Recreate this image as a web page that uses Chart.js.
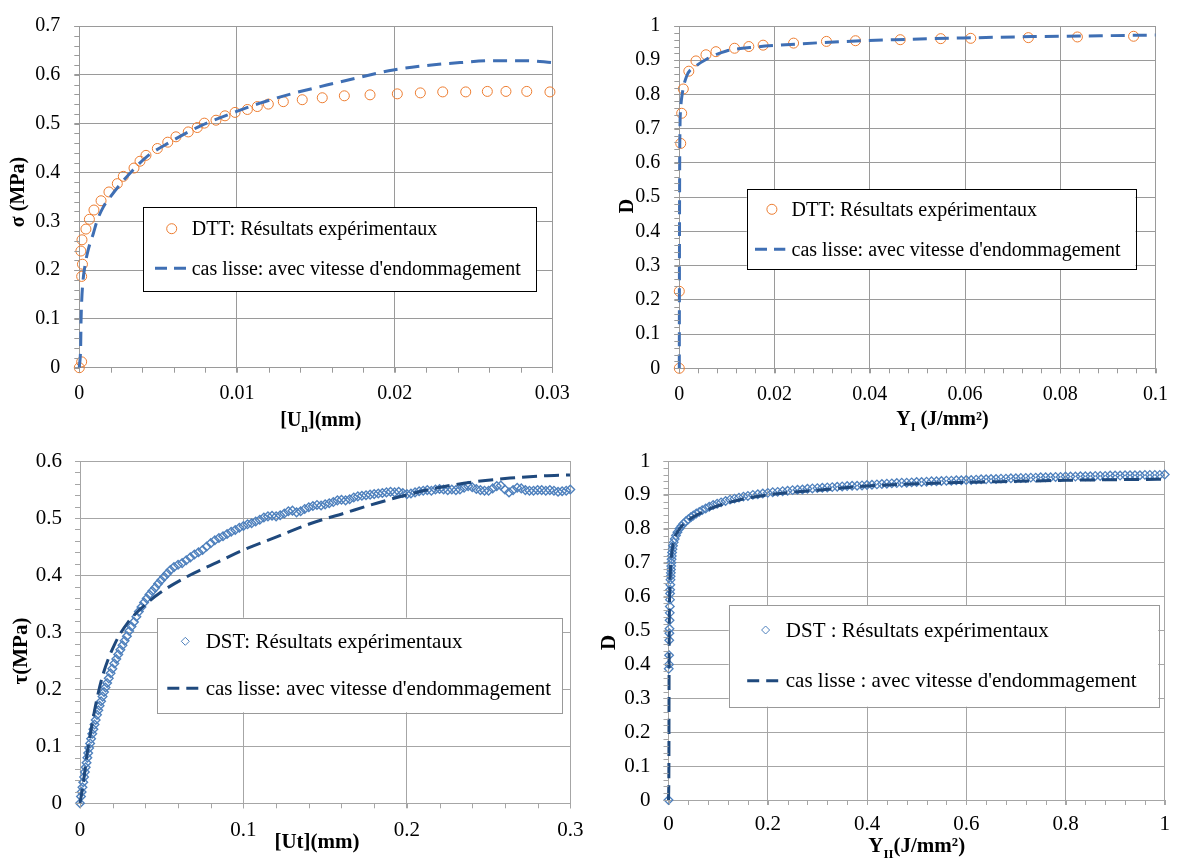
<!DOCTYPE html>
<html><head><meta charset="utf-8">
<script src="https://cdn.jsdelivr.net/npm/chart.js@4.4.1/dist/chart.umd.min.js"></script>
<style>
html,body{margin:0;padding:0;background:#fff;}
#wrap{position:relative;width:1177px;height:862px;overflow:hidden;background:#fff;}
canvas{position:absolute;}
.fl{position:absolute;left:-999px;top:-999px;font-family:"Liberation Serif";}
</style></head><body><div id="wrap">
<canvas id="c1"></canvas><canvas id="c2"></canvas><canvas id="c3"></canvas><canvas id="c4"></canvas>
</div>
<span class="fl">0.1 Résultats</span><span class="fl" style="font-weight:bold">D (MPa)</span>
<script>
// ---------- Panel 1 : DTT, sigma vs [Un] ----------
const dttUnX = [0, 0.00015, 0.00015, 0.0002, 0.0001, 0.00017, 0.00042, 0.00064, 0.00093, 0.00138, 0.00188, 0.00241, 0.00279, 0.00347, 0.00385, 0.00423, 0.00495, 0.00561, 0.00613, 0.00691, 0.00748, 0.00793, 0.00867, 0.00924, 0.00988, 0.01066, 0.01129, 0.01199, 0.01294, 0.01414, 0.01541, 0.01681, 0.01844, 0.02017, 0.02163, 0.02305, 0.02451, 0.02588, 0.02706, 0.02838, 0.02985];
const dttSigma = [0, 0.012, 0.187, 0.212, 0.239, 0.262, 0.284, 0.304, 0.323, 0.342, 0.36, 0.377, 0.392, 0.409, 0.423, 0.435, 0.449, 0.462, 0.473, 0.483, 0.492, 0.501, 0.507, 0.516, 0.523, 0.529, 0.535, 0.54, 0.545, 0.549, 0.553, 0.557, 0.559, 0.561, 0.563, 0.565, 0.565, 0.566, 0.566, 0.566, 0.565];
const modelUnX = [0, 0.00009, 0.00011, 0.00015, 0.00021, 0.00036, 0.00057, 0.00089, 0.00114, 0.00152, 0.00195, 0.00258, 0.00332, 0.00427, 0.00575, 0.00766, 0.00998, 0.01146, 0.01357, 0.01569, 0.0178, 0.01992, 0.02203, 0.02415, 0.02626, 0.02838, 0.03];
const modelSigma = [0, 0.049, 0.095, 0.135, 0.169, 0.209, 0.242, 0.275, 0.302, 0.329, 0.349, 0.375, 0.402, 0.432, 0.462, 0.495, 0.525, 0.542, 0.562, 0.579, 0.595, 0.61, 0.619, 0.625, 0.629, 0.629, 0.625];
const p1XTicks = [0, 0.01, 0.02, 0.03];
const p1YTicks = [0, 0.1, 0.2, 0.3, 0.4, 0.5, 0.6, 0.7];

// ---------- Panel 2 : DTT, D vs YI ----------
const dttYIX = [0, 0, 0.0003, 0.0005, 0.00084, 0.002, 0.0035, 0.0056, 0.0077, 0.0116, 0.0146, 0.0176, 0.024, 0.0309, 0.037, 0.0464, 0.0549, 0.0612, 0.0733, 0.0836, 0.0954];
const dttD1 = [0, 0.225, 0.657, 0.745, 0.816, 0.868, 0.898, 0.916, 0.925, 0.935, 0.94, 0.944, 0.95, 0.955, 0.957, 0.96, 0.963, 0.964, 0.966, 0.968, 0.97];
const modelYIX = [0, 0.00002, 0.00005, 0.0001, 0.0003, 0.0006, 0.0015, 0.0036, 0.0057, 0.0099, 0.0148, 0.021, 0.0336, 0.0452, 0.0596, 0.074, 0.0884, 0.1];
const modelD1 = [0, 0.2, 0.45, 0.65, 0.76, 0.8, 0.852, 0.884, 0.903, 0.927, 0.937, 0.944, 0.954, 0.96, 0.965, 0.969, 0.9715, 0.9735];
const p2XTicks = [0, 0.02, 0.04, 0.06, 0.08, 0.1];
const p2YTicks = [0, 0.1, 0.2, 0.3, 0.4, 0.5, 0.6, 0.7, 0.8, 0.9, 1];

// ---------- Panel 3 : DST, tau vs [Ut] ----------
const dstUtX = [0, 0.0006, 0.001, 0.0015, 0.002, 0.0025, 0.003, 0.0035, 0.004, 0.0045, 0.005, 0.0056, 0.0062, 0.0068, 0.0075, 0.0082, 0.0089, 0.0096, 0.0104, 0.0112, 0.012, 0.0129, 0.0138, 0.0147, 0.0156, 0.0166, 0.0176, 0.0187, 0.0198, 0.021, 0.0222, 0.0234, 0.0247, 0.026, 0.0273, 0.0287, 0.0301, 0.0315, 0.033, 0.0345, 0.036, 0.0376, 0.0392, 0.0408, 0.0425, 0.0442, 0.046, 0.0478, 0.0496, 0.0515, 0.0534, 0.0553, 0.0575, 0.06, 0.0625,
  0.065, 0.0675, 0.07, 0.0725, 0.075, 0.0775, 0.08, 0.0825, 0.085, 0.0875, 0.09, 0.0925, 0.095, 0.0975, 0.1, 0.1025, 0.105, 0.1075, 0.11, 0.1125, 0.115, 0.1175, 0.12, 0.1225, 0.125, 0.1275, 0.13, 0.1325, 0.135, 0.1375, 0.14, 0.1425, 0.145, 0.1475, 0.15, 0.1525, 0.155, 0.1575, 0.16, 0.1625, 0.165, 0.1675, 0.17, 0.1725, 0.175, 0.1775, 0.18, 0.1825, 0.185, 0.1875, 0.19, 0.1925, 0.195, 0.1975, 0.2, 0.2025, 0.205, 0.2075, 0.21, 0.2125, 0.215, 0.2175, 0.22, 0.2225, 0.225, 0.2275, 0.23, 0.2325, 0.235, 0.2375, 0.24, 0.2425, 0.245, 0.2475, 0.25, 0.2525, 0.255, 0.2575, 0.26, 0.2625, 0.265, 0.2675, 0.27, 0.2725, 0.275, 0.2775, 0.28, 0.2825, 0.285, 0.2875, 0.29, 0.2925, 0.295, 0.2975, 0.3];
const dstTau = [0, 0.012, 0.02, 0.028, 0.037, 0.046, 0.055, 0.063, 0.071, 0.08, 0.088, 0.097, 0.105, 0.113, 0.122, 0.13, 0.138, 0.146, 0.155, 0.163, 0.171, 0.179, 0.187, 0.195, 0.203, 0.211, 0.219, 0.228, 0.236, 0.245, 0.253, 0.261, 0.269, 0.277, 0.285, 0.293, 0.302, 0.31, 0.318, 0.327, 0.336, 0.344, 0.352, 0.359, 0.366, 0.372, 0.378, 0.385, 0.391, 0.397, 0.403, 0.409, 0.414, 0.418, 0.421,
  0.426, 0.431, 0.436, 0.44, 0.444, 0.45, 0.456, 0.461, 0.465, 0.468, 0.472, 0.476, 0.479, 0.483, 0.486, 0.489, 0.491, 0.494, 0.497, 0.501, 0.503, 0.504, 0.503, 0.505, 0.508, 0.512, 0.513, 0.51, 0.512, 0.516, 0.519, 0.521, 0.523, 0.522, 0.524, 0.526, 0.528, 0.531, 0.532, 0.531, 0.533, 0.536, 0.538, 0.539, 0.54, 0.541, 0.542, 0.543, 0.544, 0.545, 0.546, 0.545, 0.546, 0.544, 0.542, 0.543, 0.545, 0.547, 0.548, 0.549, 0.548, 0.55, 0.551, 0.55, 0.549, 0.55, 0.549, 0.55, 0.553, 0.556, 0.554, 0.551, 0.549, 0.548, 0.548, 0.552, 0.556, 0.557, 0.55, 0.545, 0.549, 0.553, 0.552, 0.549, 0.548, 0.548, 0.549, 0.549, 0.548, 0.549, 0.548, 0.546, 0.547, 0.548, 0.55];
const modelUtX = [0, 0.002, 0.0041, 0.0071, 0.0102, 0.0143, 0.0214, 0.0296, 0.0387, 0.049, 0.0653, 0.0836, 0.0999, 0.1203, 0.1407, 0.1611, 0.1815, 0.2019, 0.2223, 0.2427, 0.2631, 0.2835, 0.2998];
const modelTau = [0, 0.035, 0.082, 0.134, 0.181, 0.228, 0.28, 0.318, 0.345, 0.369, 0.397, 0.422, 0.444, 0.467, 0.49, 0.508, 0.526, 0.542, 0.555, 0.564, 0.57, 0.574, 0.5755];
const p3XTicks = [0, 0.1, 0.2, 0.3];
const p3YTicks = [0, 0.1, 0.2, 0.3, 0.4, 0.5, 0.6];

// ---------- Panel 4 : DST, D vs YII ----------
const dstYIIX = [0, 0.0005, 0.001, 0.0012, 0.0015, 0.0018, 0.002, 0.0022, 0.0025, 0.0027, 0.003, 0.0032, 0.0034, 0.0037, 0.004, 0.0043, 0.0047, 0.005, 0.0054, 0.0058, 0.0062, 0.0066, 0.0072, 0.008, 0.009, 0.0105, 0.0125, 0.015, 0.018, 0.022, 0.026, 0.03, 0.035, 0.04, 0.045, 0.05, 0.056, 0.062, 0.068, 0.075, 0.082, 0.09, 0.098, 0.106, 0.115, 0.124, 0.133, 0.142, 0.151, 0.16, 0.17, 0.18, 0.19,
  0.2, 0.21, 0.22, 0.23, 0.24, 0.25, 0.26, 0.27, 0.28, 0.29, 0.3, 0.31, 0.32, 0.33, 0.34, 0.35, 0.36, 0.37, 0.38, 0.39, 0.4, 0.41, 0.42, 0.43, 0.44, 0.45, 0.46, 0.47, 0.48, 0.49, 0.5, 0.51, 0.52, 0.53, 0.54, 0.55, 0.56, 0.57, 0.58, 0.59, 0.6, 0.61, 0.62, 0.63, 0.64, 0.65, 0.66, 0.67, 0.68, 0.69, 0.7, 0.71, 0.72, 0.73, 0.74, 0.75, 0.76, 0.77, 0.78, 0.79, 0.8, 0.81, 0.82, 0.83, 0.84, 0.85, 0.86, 0.87, 0.88, 0.89, 0.9, 0.91, 0.92, 0.93, 0.94, 0.95, 0.96, 0.97, 0.98, 0.99, 1.0];
const dstD2 = [0, 0.387, 0.4, 0.427, 0.471, 0.492, 0.505, 0.53, 0.552, 0.571, 0.591, 0.609, 0.62, 0.635, 0.65, 0.66, 0.67, 0.68, 0.69, 0.7, 0.71, 0.72, 0.73, 0.74, 0.75, 0.76, 0.77, 0.78, 0.79, 0.8, 0.808, 0.815, 0.822, 0.828, 0.834, 0.839, 0.845, 0.85, 0.855, 0.86, 0.865, 0.87, 0.874, 0.878, 0.882, 0.886, 0.889, 0.892, 0.895, 0.897, 0.9, 0.902, 0.904,
  0.906, 0.908, 0.909, 0.911, 0.912, 0.914, 0.915, 0.916, 0.918, 0.919, 0.92, 0.921, 0.922, 0.923, 0.924, 0.925, 0.926, 0.927, 0.927, 0.928, 0.929, 0.93, 0.931, 0.932, 0.933, 0.934, 0.935, 0.936, 0.936, 0.937, 0.938, 0.938, 0.939, 0.94, 0.94, 0.941, 0.942, 0.942, 0.943, 0.943, 0.944, 0.944, 0.945, 0.946, 0.946, 0.947, 0.947, 0.948, 0.948, 0.949, 0.949, 0.95, 0.95, 0.951, 0.951, 0.952, 0.952, 0.952, 0.953, 0.953, 0.954, 0.954, 0.954, 0.955, 0.955, 0.955, 0.956, 0.956, 0.956, 0.957, 0.957, 0.957, 0.958, 0.958, 0.958, 0.958, 0.959, 0.959, 0.959, 0.959, 0.96];
const modelYIIX = [0, 0.0008, 0.001, 0.0012, 0.0015, 0.002, 0.003, 0.004, 0.006, 0.01, 0.02, 0.04, 0.07, 0.1, 0.15, 0.2, 0.3, 0.4, 0.5, 0.6, 0.7, 0.8, 0.9, 1.0];
const modelD2 = [0, 0.1, 0.25, 0.4, 0.5, 0.58, 0.64, 0.68, 0.72, 0.76, 0.795, 0.825, 0.85, 0.868, 0.888, 0.9, 0.914, 0.926, 0.933, 0.937, 0.94, 0.943, 0.945, 0.946];
const p4XTicks = [0, 0.2, 0.4, 0.6, 0.8, 1];
const p4YTicks = [0, 0.1, 0.2, 0.3, 0.4, 0.5, 0.6, 0.7, 0.8, 0.9, 1];

// ---------- Texts ----------
const labelsDTT = ['DTT: Résultats expérimentaux', "cas lisse: avec vitesse d'endommagement"];
const labelsDST3 = ['DST: Résultats expérimentaux', "cas lisse: avec vitesse d'endommagement"];
const labelsDST4 = ['DST : Résultats expérimentaux', "cas lisse : avec vitesse d'endommagement"];
const p1XTitle = [['[U', 0], ['n', 1], ['](mm)', 0]];
const p1YTitle = [['σ (MPa)', 0]];
const p2XTitle = [['Y', 0], ['I', 1], [' (J/mm²)', 0]];
const p2YTitle = [['D', 0]];
const p3XTitle = [['[Ut](mm)', 0]];
const p3YTitle = [['τ(MPa)', 0]];
const p4XTitle = [['Y', 0], ['II', 1], ['(J/mm²)', 0]];
const p4YTitle = [['D', 0]];

const SERIF = '"Liberation Serif", "Times New Roman", serif';
const ORANGE = '#ED7D31', BLUE = '#3F6FB4', DIAM = '#4F81BD', NAVY = '#1F497D';

function pts(xs, ys) { return xs.map((x, i) => ({x: x, y: ys[i]})); }

function richText(ctx, parts, x, y, size, rotated) {
  ctx.save();
  ctx.translate(x, y);
  if (rotated) ctx.rotate(-Math.PI / 2);
  const main = 'bold ' + size + 'px ' + SERIF, sub = 'bold ' + Math.round(size * 0.62) + 'px ' + SERIF;
  const widths = parts.map(([t, s]) => { ctx.font = s ? sub : main; return ctx.measureText(t).width; });
  let cx = -widths.reduce((a, b) => a + b, 0) / 2;
  ctx.fillStyle = '#000'; ctx.textAlign = 'left';
  ctx.textBaseline = rotated ? 'middle' : 'alphabetic';
  parts.forEach(([t, s], i) => { ctx.font = s ? sub : main; ctx.fillText(t, cx, s ? size * 0.28 : 0); cx += widths[i]; });
  ctx.restore();
}

function marker(ctx, kind, x, y, r, color) {
  ctx.save(); ctx.strokeStyle = color; ctx.lineWidth = 1; ctx.beginPath();
  if (kind === 'circle') ctx.arc(x, y, r, 0, Math.PI * 2);
  else { ctx.moveTo(x, y - r); ctx.lineTo(x + r, y); ctx.lineTo(x, y + r); ctx.lineTo(x - r, y); ctx.closePath(); }
  ctx.stroke(); ctx.restore();
}

function build(p) {
  const cv = document.getElementById(p.id);
  cv.width = p.w; cv.height = p.h;
  cv.style.left = p.left + 'px'; cv.style.top = p.top + 'px';
  const a = p.area;
  const mkAxis = (ticksArr, min, max, isX) => ({
    type: 'linear', min: min, max: max,
    afterBuildTicks: s => { s.ticks = ticksArr.map(v => ({value: v})); },
    afterFit: s => { if (isX) s.height = p.top + p.h - a.B; else s.width = a.L - p.left; },
    ticks: { font: {family: SERIF, size: p.font}, color: '#000', padding: isX ? p.xPad : p.yPad,
             callback: v => String(v), autoSkip: false, maxRotation: 0 },
    grid: { color: p.grid, lineWidth: 1, tickLength: 5, drawTicks: true },
    border: { color: p.grid, width: 1 }
  });
  const overlay = {
    id: 'overlay' + p.id,
    afterDraw(chart) {
      const ctx = chart.ctx, xs = chart.scales.x, ys = chart.scales.y;
      ctx.save(); ctx.strokeStyle = p.grid; ctx.lineWidth = 1; ctx.beginPath();
      const nx = Math.round((xs.max - xs.min) / p.minorX);
      for (let i = 0; i <= nx; i++) { const px = Math.round(xs.getPixelForValue(xs.min + i * p.minorX)) + 0.5; ctx.moveTo(px, ys.bottom); ctx.lineTo(px, ys.bottom + 5); }
      const ny = Math.round((ys.max - ys.min) / p.minorY);
      for (let i = 0; i <= ny; i++) { const py = Math.round(ys.getPixelForValue(ys.min + i * p.minorY)) + 0.5; ctx.moveTo(xs.left - 5, py); ctx.lineTo(xs.left, py); }
      ctx.stroke(); ctx.restore();
      const ox = p.left, oy = p.top;
      richText(ctx, p.xTitle, p.xTitlePos[0] - ox, p.xTitlePos[1] - oy, p.titleFont, false);
      richText(ctx, p.yTitle, p.yTitlePos[0] - ox, p.yTitlePos[1] - oy, p.titleFont, true);
      const L = p.legend, b = L.box;
      ctx.save();
      ctx.fillStyle = '#fff'; ctx.fillRect(b[0] - ox, b[1] - oy, b[2] - b[0], b[3] - b[1]);
      ctx.strokeStyle = L.border; ctx.lineWidth = 1;
      ctx.strokeRect(Math.round(b[0] - ox) + 0.5, Math.round(b[1] - oy) + 0.5, Math.round(b[2] - b[0]), Math.round(b[3] - b[1]));
      const dsP = chart.data.datasets[0], dsL = chart.data.datasets[1];
      marker(ctx, L.kind, L.m[0] - ox, L.m[1] - oy, L.r, L.mColor);
      ctx.strokeStyle = L.lColor; ctx.lineWidth = 3; ctx.setLineDash([12, 7]);
      ctx.beginPath(); ctx.moveTo(L.d[0] - ox, L.d[2] - oy); ctx.lineTo(L.d[1] - ox, L.d[2] - oy); ctx.stroke();
      ctx.setLineDash([]);
      ctx.fillStyle = '#000'; ctx.font = p.legendFont + 'px ' + SERIF; ctx.textAlign = 'left'; ctx.textBaseline = 'middle';
      ctx.fillText(dsP.label, L.tx - ox, L.m[1] - oy + 1);
      ctx.fillText(dsL.label, L.tx - ox, L.d[2] - oy + 1);
      ctx.restore();
    }
  };
  return new Chart(cv, {
    type: 'scatter',
    data: { datasets: [
      { label: p.labels[0], data: p.pData, showLine: false, pointStyle: p.pStyle, pointRadius: p.pRadius,
        pointBorderWidth: p.pBorder, pointBorderColor: p.pColor, pointBackgroundColor: 'rgba(0,0,0,0)',
        borderColor: p.pColor, backgroundColor: 'rgba(0,0,0,0)', order: 1, clip: false },
      { label: p.labels[1], data: p.lData, showLine: true, pointRadius: 0, borderColor: p.lColor, borderWidth: 3,
        borderDash: p.dash, cubicInterpolationMode: 'monotone', fill: false, order: 0, clip: false }
    ]},
    options: {
      responsive: false, animation: false, devicePixelRatio: 1, events: [],
      layout: { padding: { left: 0, top: a.T - p.top, right: p.left + p.w - a.R, bottom: 0 } },
      plugins: { legend: { display: false }, tooltip: { enabled: false } },
      scales: { x: mkAxis(p.xTicks, p.xTicks[0], p.xTicks[p.xTicks.length - 1], true),
                y: mkAxis(p.yTicks, p.yTicks[0], p.yTicks[p.yTicks.length - 1], false) }
    },
    plugins: [overlay]
  });
}

function drawAll() {
  build({ id: 'c1', left: 0, top: 0, w: 590, h: 435, area: {L: 79.3, T: 17.7, R: 552.3, B: 367.7},
    font: 20, titleFont: 20, legendFont: 20, xPad: 9, yPad: 14, grid: '#9a9a9a', minorX: 0.002, minorY: 0.02,
    xTicks: p1XTicks, yTicks: p1YTicks, labels: labelsDTT,
    pData: pts(dttUnX, dttSigma), pStyle: 'circle', pRadius: 5, pBorder: 1, pColor: ORANGE,
    lData: pts(modelUnX, modelSigma), lColor: BLUE, dash: [14, 8],
    xTitle: p1XTitle, yTitle: p1YTitle, xTitlePos: [320.8, 426], yTitlePos: [19, 192],
    legend: { box: [143.3, 207.3, 536.7, 291], border: '#000', kind: 'circle', r: 5, mColor: ORANGE, lColor: BLUE,
              m: [171.7, 228.7], d: [155, 186, 268.3], tx: 191.7 } });

  build({ id: 'c2', left: 595, top: 0, w: 582, h: 435, area: {L: 679.3, T: 16, R: 1157.7, B: 368.3},
    font: 20, titleFont: 20, legendFont: 20, xPad: 9, yPad: 14, grid: '#9a9a9a', minorX: 0.004, minorY: 0.02,
    xTicks: p2XTicks, yTicks: p2YTicks, labels: labelsDTT,
    pData: pts(dttYIX, dttD1), pStyle: 'circle', pRadius: 5, pBorder: 1, pColor: ORANGE,
    lData: pts(modelYIX, modelD1), lColor: BLUE, dash: [14, 8],
    xTitle: p2XTitle, yTitle: p2YTitle, xTitlePos: [942.5, 425], yTitlePos: [628, 206],
    legend: { box: [746.7, 189.3, 1135.5, 269.3], border: '#000', kind: 'circle', r: 5, mColor: ORANGE, lColor: BLUE,
              m: [771.9, 209.3], d: [755, 785.3, 249.3], tx: 791.5 } });

  build({ id: 'c3', left: 0, top: 435, w: 595, h: 427, area: {L: 80, T: 461, R: 570.3, B: 803.3},
    font: 21, titleFont: 21, legendFont: 21, xPad: 10, yPad: 13, grid: '#a6a6a6', minorX: 0.02, minorY: 0.02,
    xTicks: p3XTicks, yTicks: p3YTicks, labels: labelsDST3,
    pData: pts(dstUtX, dstTau), pStyle: 'rectRot', pRadius: 4.3, pBorder: 1.4, pColor: DIAM,
    lData: pts(modelUtX, modelTau), lColor: NAVY, dash: [15, 7],
    xTitle: p3XTitle, yTitle: p3YTitle, xTitlePos: [317, 848], yTitlePos: [21.7, 651],
    legend: { box: [157.3, 617.7, 562.3, 712.3], border: '#999', kind: 'diamond', r: 4, mColor: DIAM, lColor: NAVY,
              m: [185.3, 641.3], d: [167.3, 199.3, 688.3], tx: 205.7 } });

  build({ id: 'c4', left: 595, top: 435, w: 582, h: 427, area: {L: 668.5, T: 461, R: 1169.3, B: 800},
    font: 21, titleFont: 21, legendFont: 21, xPad: 7, yPad: 13, grid: '#a6a6a6', minorX: 0.04, minorY: 0.02,
    xTicks: p4XTicks, yTicks: p4YTicks, labels: labelsDST4,
    pData: pts(dstYIIX, dstD2), pStyle: 'rectRot', pRadius: 4.3, pBorder: 1.3, pColor: DIAM,
    lData: pts(modelYIIX, modelD2), lColor: NAVY, dash: [15, 7],
    xTitle: p4XTitle, yTitle: p4YTitle, xTitlePos: [916.7, 852], yTitlePos: [610, 642.5],
    legend: { box: [728.7, 605, 1158.2, 706.7], border: '#999', kind: 'diamond', r: 4, mColor: DIAM, lColor: NAVY,
              m: [765.6, 630], d: [747.2, 779.6, 680.7], tx: 785.8 } });
}

let done = false;
function go() { if (!done) { done = true; drawAll(); } }
if (document.fonts && document.fonts.load) {
  Promise.all([
    document.fonts.load('20px "Liberation Serif"'),
    document.fonts.load('bold 20px "Liberation Serif"')
  ]).then(go, go);
  setTimeout(go, 1500);
} else { go(); }
</script>
</body></html>
